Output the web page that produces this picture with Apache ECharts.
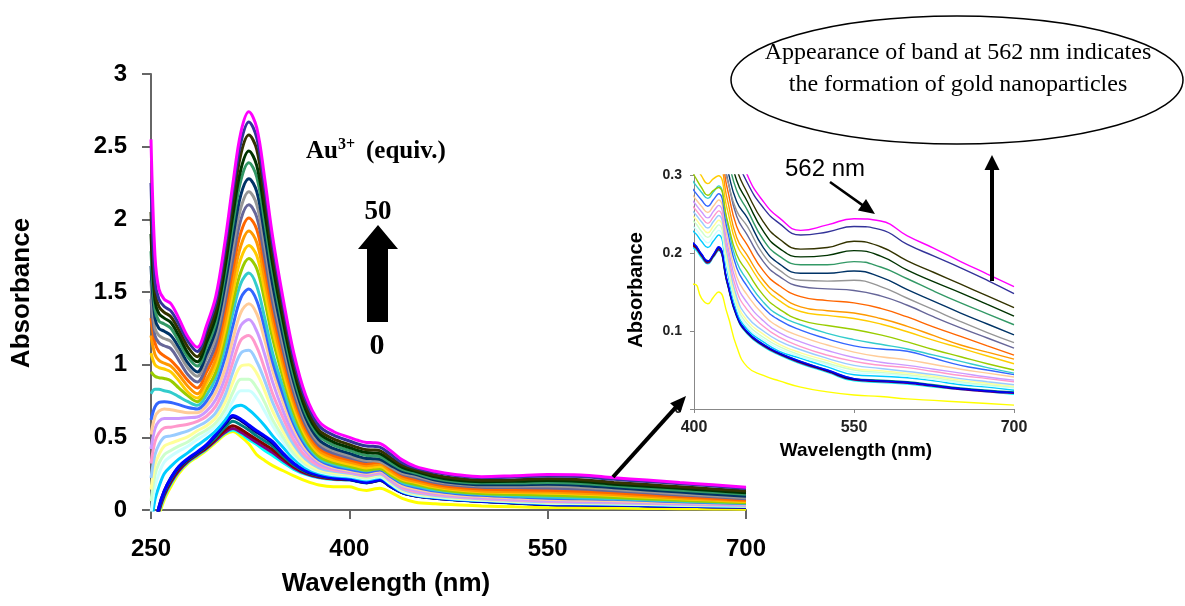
<!DOCTYPE html>
<html><head><meta charset="utf-8">
<script src="https://cdn.jsdelivr.net/npm/echarts/dist/echarts.min.js"></script>
<style>html,body{margin:0;padding:0;background:#fff}#c{width:1185px;height:606px}</style>
</head><body><div id="c"></div>
<script>
// ---------- DATA ----------
const wavelengths = [250,253,256,260,265, 271,278,285,292,299, 306,312,318,324,330, 336,342,350,358,367, 377,388,400,407,413, 418,423,431,440,450, 465,480,500,525,550, 575,600,625,650,675, 700];

const s00 = [-0.3,-0.16,-0.04,0.07,0.16, 0.25,0.32,0.365,0.41,0.465, 0.52,0.54,0.505,0.455,0.38, 0.34,0.305,0.27,0.235,0.20, 0.172,0.16,0.16,0.142,0.135, 0.143,0.15,0.123,0.08,0.054, 0.043,0.036,0.028,0.022,0.018, 0.016,0.013,0.011,0.009,0.007, 0.005];
const s01 = [-0.3,-0.14,-0.02,0.09,0.18, 0.265,0.33,0.375,0.42,0.475, 0.53,0.55,0.525,0.485,0.45, 0.41,0.375,0.325,0.28,0.245, 0.222,0.21,0.206,0.194,0.186, 0.194,0.203,0.161,0.118,0.096, 0.080,0.069,0.058,0.047,0.036, 0.034,0.032,0.028,0.025,0.022, 0.019];
const s02 = [-0.3,-0.14,-0.01,0.10,0.19, 0.27,0.335,0.38,0.425,0.48, 0.535,0.56,0.535,0.50,0.465, 0.43,0.395,0.34,0.29,0.25, 0.226,0.213,0.208,0.196,0.187, 0.195,0.204,0.162,0.119,0.097, 0.081,0.070,0.059,0.048,0.037, 0.035,0.033,0.029,0.025,0.022, 0.020];
const s03 = [-0.3,-0.13,0.0,0.11,0.20, 0.28,0.34,0.385,0.43,0.49, 0.55,0.58,0.555,0.52,0.485, 0.45,0.415,0.355,0.30,0.256, 0.23,0.215,0.209,0.197,0.188, 0.196,0.205,0.163,0.120,0.098, 0.082,0.071,0.060,0.049,0.038, 0.036,0.034,0.030,0.026,0.023, 0.021];
const s04 = [-0.3,-0.12,0.01,0.12,0.21, 0.29,0.345,0.39,0.44,0.50, 0.57,0.61,0.585,0.55,0.51, 0.475,0.44,0.37,0.31,0.262, 0.235,0.218,0.211,0.198,0.189, 0.197,0.206,0.164,0.121,0.099, 0.083,0.072,0.061,0.050,0.039, 0.037,0.035,0.031,0.027,0.024, 0.022];
const s05 = [-0.3,-0.12,0.02,0.13,0.22, 0.295,0.35,0.395,0.445,0.515, 0.59,0.64,0.615,0.575,0.535, 0.50,0.46,0.385,0.32,0.268, 0.238,0.22,0.211,0.198,0.189, 0.197,0.207,0.164,0.120,0.098, 0.082,0.071,0.060,0.049,0.038, 0.036,0.034,0.030,0.026,0.023, 0.021];
const s06 = [-0.3,-0.12,0.02,0.13,0.22, 0.30,0.355,0.40,0.45,0.52, 0.60,0.65,0.625,0.585,0.545, 0.51,0.47,0.39,0.32,0.27, 0.24,0.222,0.212,0.199,0.19, 0.198,0.208,0.165,0.121,0.099, 0.083,0.072,0.061,0.050,0.039, 0.036,0.034,0.030,0.026,0.023, 0.021];
const s07 = [-0.12,0.07,0.16,0.25,0.30, 0.35,0.395,0.445,0.49,0.545, 0.62,0.70,0.72,0.69,0.64, 0.58,0.51,0.43,0.35,0.29, 0.255,0.236,0.227,0.215,0.207, 0.215,0.223,0.177,0.126,0.102, 0.086,0.074,0.065,0.054,0.044, 0.042,0.040,0.036,0.031,0.028, 0.024];
const s08 = [-0.02,0.16,0.25,0.33,0.37, 0.405,0.44,0.485,0.525,0.575, 0.65,0.75,0.82,0.82,0.77, 0.68,0.58,0.47,0.375,0.305, 0.262,0.242,0.233,0.221,0.213, 0.221,0.229,0.182,0.130,0.105, 0.089,0.077,0.067,0.057,0.047, 0.045,0.042,0.038,0.033,0.030, 0.027];
const s09 = [0.06,0.24,0.32,0.38,0.41, 0.44,0.47,0.515,0.55,0.60, 0.69,0.81,0.90,0.90,0.84, 0.74,0.62,0.50,0.39,0.315, 0.27,0.25,0.24,0.228,0.220, 0.228,0.236,0.188,0.134,0.109, 0.092,0.080,0.069,0.059,0.050, 0.047,0.044,0.040,0.035,0.031, 0.028];
const s10 = [0.14,0.31,0.38,0.44,0.46, 0.48,0.505,0.545,0.58,0.635, 0.74,0.88,0.99,1.00,0.94, 0.82,0.68,0.54,0.42,0.33, 0.28,0.258,0.246,0.234,0.226, 0.234,0.242,0.193,0.139,0.113, 0.096,0.083,0.072,0.062,0.052, 0.049,0.046,0.042,0.037,0.033, 0.029];
const s11 = [0.22,0.38,0.45,0.50,0.51, 0.525,0.545,0.575,0.61,0.67, 0.79,0.95,1.08,1.10,1.02, 0.89,0.74,0.58,0.45,0.35, 0.29,0.266,0.252,0.240,0.232, 0.240,0.248,0.199,0.144,0.118, 0.100,0.087,0.076,0.065,0.056, 0.052,0.048,0.044,0.039,0.035, 0.031];
const s12 = [0.32,0.47,0.53,0.565,0.57, 0.58,0.59,0.61,0.645,0.715, 0.85,1.02,1.17,1.20,1.12, 0.97,0.80,0.63,0.48,0.37, 0.305,0.275,0.258,0.246,0.238, 0.246,0.254,0.206,0.152,0.127, 0.106,0.092,0.080,0.069,0.061, 0.056,0.053,0.048,0.043,0.039, 0.035];
const s13 = [0.42,0.56,0.61,0.63,0.63, 0.63,0.635,0.64,0.68,0.76, 0.91,1.10,1.27,1.31,1.23, 1.07,0.88,0.68,0.52,0.40, 0.32,0.285,0.265,0.253,0.245, 0.253,0.261,0.213,0.161,0.136, 0.113,0.098,0.086,0.075,0.066, 0.060,0.056,0.051,0.046,0.041, 0.037];
const s14 = [0.52,0.64,0.68,0.695,0.69, 0.68,0.67,0.67,0.715,0.81, 0.97,1.18,1.36,1.42,1.35, 1.17,0.96,0.74,0.56,0.42, 0.335,0.293,0.272,0.260,0.252, 0.260,0.268,0.222,0.170,0.146, 0.121,0.105,0.093,0.082,0.073, 0.067,0.063,0.057,0.051,0.046, 0.041];
const s15 = [0.62,0.71,0.74,0.745,0.74, 0.725,0.705,0.695,0.75,0.86, 1.05,1.27,1.46,1.52,1.44, 1.25,1.02,0.79,0.59,0.44, 0.345,0.302,0.28,0.268,0.260, 0.268,0.276,0.231,0.181,0.157, 0.130,0.114,0.101,0.090,0.081, 0.077,0.074,0.065,0.056,0.050, 0.044];
const s16 = [0.80,0.83,0.83,0.82,0.81, 0.78,0.745,0.72,0.79,0.91, 1.12,1.36,1.56,1.63,1.54, 1.32,1.08,0.84,0.62,0.46, 0.356,0.314,0.29,0.278,0.270, 0.278,0.286,0.240,0.189,0.165, 0.137,0.120,0.108,0.097,0.089, 0.083,0.077,0.069,0.061,0.053, 0.046];
const s17 = [0.95,0.92,0.91,0.905,0.89, 0.84,0.785,0.745,0.83,0.95, 1.18,1.43,1.64,1.73,1.66, 1.44,1.18,0.906,0.67,0.484, 0.37,0.326,0.30,0.284,0.274, 0.280,0.284,0.243,0.198,0.176, 0.146,0.128,0.114,0.107,0.102, 0.095,0.086,0.076,0.067,0.058, 0.050];
const s18 = [1.08,1.00,0.98,0.97,0.95, 0.89,0.81,0.77,0.87,1.00, 1.24,1.505,1.73,1.82,1.75, 1.51,1.24,0.953,0.705,0.51, 0.389,0.342,0.315,0.299,0.289, 0.295,0.299,0.257,0.211,0.189, 0.158,0.139,0.125,0.120,0.116, 0.109,0.099,0.088,0.078,0.068, 0.058];
const s19 = [1.20,1.07,1.03,1.01,0.99, 0.93,0.85,0.80,0.90,1.04, 1.30,1.58,1.82,1.92,1.84, 1.59,1.31,1.00,0.742,0.535, 0.408,0.359,0.33,0.314,0.304, 0.310,0.314,0.270,0.220,0.197, 0.165,0.146,0.131,0.126,0.123, 0.116,0.106,0.094,0.082,0.073, 0.064];
const s20 = [1.32,1.15,1.09,1.06,1.03, 0.97,0.89,0.84,0.95,1.09, 1.37,1.66,1.91,2.01,1.93, 1.67,1.37,1.05,0.776,0.56, 0.427,0.375,0.345,0.329,0.319, 0.325,0.329,0.284,0.234,0.210, 0.177,0.158,0.144,0.139,0.136, 0.129,0.118,0.105,0.093,0.081, 0.069];
const s21 = [1.45,1.20,1.15,1.13,1.11, 1.03,0.93,0.88,0.99,1.14, 1.43,1.73,2.00,2.10,2.015, 1.74,1.43,1.10,0.81,0.584, 0.445,0.391,0.36,0.344,0.334, 0.340,0.344,0.298,0.247,0.223, 0.189,0.170,0.157,0.154,0.152, 0.145,0.133,0.118,0.104,0.091, 0.078];
const s22 = [1.58,1.25,1.20,1.18,1.16, 1.08,0.975,0.92,1.04,1.19, 1.49,1.81,2.08,2.19,2.10, 1.82,1.49,1.145,0.845,0.61, 0.464,0.408,0.375,0.353,0.340, 0.338,0.333,0.295,0.254,0.234, 0.198,0.178,0.165,0.164,0.165, 0.157,0.142,0.127,0.112,0.098, 0.085];
const s23 = [1.68,1.32,1.25,1.23,1.20, 1.12,1.01,0.95,1.074,1.24, 1.55,1.88,2.17,2.28,2.19, 1.89,1.55,1.19,0.88,0.634, 0.483,0.424,0.39,0.368,0.355, 0.353,0.348,0.309,0.266,0.245, 0.207,0.186,0.174,0.174,0.177, 0.169,0.153,0.138,0.123,0.109, 0.095];
const s24 = [1.78,1.38,1.30,1.28,1.25, 1.16,1.05,0.99,1.12,1.29, 1.62,1.97,2.27,2.39,2.29, 1.98,1.63,1.25,0.92,0.665, 0.51,0.446,0.41,0.388,0.375, 0.373,0.368,0.326,0.280,0.255, 0.217,0.196,0.185,0.185,0.189, 0.182,0.167,0.151,0.136,0.122, 0.108];
const s25 = [1.90,1.44,1.35,1.32,1.29, 1.20,1.08,1.02,1.155,1.33, 1.67,2.035,2.345,2.47,2.37, 2.05,1.69,1.295,0.96,0.69, 0.53,0.467,0.43,0.408,0.395, 0.393,0.388,0.344,0.293,0.266, 0.228,0.206,0.195,0.197,0.203, 0.196,0.178,0.163,0.149,0.134, 0.119];
const s26 = [2.05,1.50,1.40,1.36,1.33, 1.24,1.12,1.055,1.20,1.38, 1.74,2.12,2.45,2.58,2.48, 2.14,1.76,1.35,1.00,0.725, 0.55,0.49,0.45,0.428,0.415, 0.413,0.408,0.362,0.308,0.277, 0.240,0.218,0.205,0.207,0.215, 0.208,0.190,0.175,0.160,0.145, 0.130];
const s27 = [2.25,1.58,1.45,1.40,1.37, 1.28,1.16,1.09,1.24,1.43, 1.80,2.20,2.53,2.67,2.56, 2.22,1.83,1.41,1.04,0.76, 0.58,0.515,0.475,0.453,0.440, 0.438,0.433,0.385,0.325,0.290, 0.258,0.238,0.223,0.227,0.234, 0.230,0.211,0.196,0.181,0.165, 0.148];
const s28 = [2.55,1.75,1.52,1.45,1.42, 1.32,1.19,1.12,1.27,1.47, 1.85,2.25,2.60,2.74,2.63, 2.28,1.88,1.45,1.08,0.79, 0.61,0.54,0.50,0.478,0.465, 0.463,0.458,0.41,0.345,0.300, 0.266,0.245,0.229,0.236,0.244, 0.241,0.222,0.206,0.189,0.173, 0.157];

const curveColors = ['#FFFF00','#00FFFF','#800080','#800000','#008080','#000080','#0000FF','#00CCFF','#CCFFFF','#CCFFCC','#FFFF99','#99CCFF','#FF99CC','#CC99FF','#FFCC99','#3366FF','#33CCCC','#99CC00','#FFCC00','#FF9900','#FF6600','#666699','#969696','#003366','#339966','#003300','#333300','#333399','#FF00FF'];

const mainXRange = [250, 700, 150];
const mainYRange = [0, 3, 0.5];
const insetXRange = [400, 700, 150];
const insetYRange = [0, 0.3, 0.1];

const texts = {
  yName: 'Absorbance', xName: 'Wavelength (nm)',
  au: 'Au', auSup: '3+', equiv: '(equiv.)', top: '50', bottom: '0',
  note1: 'Appearance of band at 562 nm indicates', note2: 'the formation of gold nanoparticles',
  band: '562 nm'
};

// ---------- CHART ----------
const curves = [s00,s01,s02,s03,s04,s05,s06,s07,s08,s09,s10,s11,s12,s13,s14,s15,s16,s17,s18,s19,s20,s21,s22,s23,s24,s25,s26,s27,s28];
const SANS = '"Liberation Sans", Arial, sans-serif';
const SERIF = '"Liberation Serif", "Times New Roman", serif';

const series = [];
curves.forEach((arr, k) => {
  const pts = wavelengths.map((w, i) => [w, arr[i]]);
  series.push({type:'line', xAxisIndex:0, yAxisIndex:0, data:pts, symbol:'none', smooth:0.35, clip:true, silent:true,
    lineStyle:{color:curveColors[k], width:3}, itemStyle:{color:curveColors[k]}});
  series.push({type:'line', xAxisIndex:1, yAxisIndex:1, data:pts.filter(p => p[0] >= 388), symbol:'none', smooth:0.5, clip:true, silent:true,
    lineStyle:{color:curveColors[k], width:1.4}, itemStyle:{color:curveColors[k]}});
});

function arrowEls(x1, y1, x2, y2, w, hl, hw) {
  const dx = x2 - x1, dy = y2 - y1, L = Math.hypot(dx, dy), ux = dx / L, uy = dy / L;
  const bx = x2 - ux * hl, by = y2 - uy * hl, nx = -uy, ny = ux;
  return [
    {type:'line', z:100, shape:{x1:x1, y1:y1, x2:bx + ux * 2, y2:by + uy * 2}, style:{stroke:'#000', lineWidth:w}},
    {type:'polygon', z:101, shape:{points:[[x2, y2], [bx + nx * hw, by + ny * hw], [bx - nx * hw, by - ny * hw]]}, style:{fill:'#000'}}
  ];
}
function txt(x, y, s, size, weight, fam, rot, align) {
  return {type:'text', z:102, x:x, y:y, rotation:rot || 0,
    style:{text:s, fontSize:size, fontWeight:weight, fontFamily:fam, fill:'#000',
      align:align || 'center', verticalAlign:'middle', textAlign:align || 'center', textVerticalAlign:'middle'}};
}

const graphics = [
  txt(22, 293, texts.yName, 26, 'bold', SANS, Math.PI / 2),
  txt(386, 584, texts.xName, 26, 'bold', SANS, 0),
  txt(636, 290, texts.yName, 20, 'bold', SANS, Math.PI / 2),
  txt(856, 451, texts.xName, 19, 'bold', SANS, 0),
  txt(306, 152, texts.au, 25, 'bold', SERIF, 0, 'left'),
  txt(338, 145, texts.auSup, 16, 'bold', SERIF, 0, 'left'),
  txt(366, 152, texts.equiv, 25, 'bold', SERIF, 0, 'left'),
  txt(378, 212, texts.top, 27, 'bold', SERIF, 0),
  txt(377, 346, texts.bottom, 30, 'bold', SERIF, 0),
  {type:'polygon', z:100, shape:{points:[[367,322],[388,322],[388,249],[398,249],[378,225],[358,249],[367,249]]}, style:{fill:'#000'}},
  {type:'ellipse', z:99, shape:{cx:957, cy:80, rx:226, ry:64}, style:{fill:'none', stroke:'#000', lineWidth:1.5}},
  txt(958, 53, texts.note1, 24, 'normal', SERIF, 0),
  txt(958, 85, texts.note2, 24, 'normal', SERIF, 0),
  txt(825, 169, texts.band, 24, 'normal', SANS, 0)
].concat(
  arrowEls(613, 477, 686, 396, 4, 16, 7),
  arrowEls(830, 182, 875, 214, 2.5, 16, 7),
  arrowEls(992, 281, 992, 155, 4, 15, 7.5)
);

const chart = echarts.init(document.getElementById('c'), null, {renderer:'canvas'});
chart.setOption({
  animation:false,
  backgroundColor:'#fff',
  grid:[
    {left:151, top:74, width:595, height:436},
    {left:694, top:175, width:320, height:234}
  ],
  xAxis:[
    {gridIndex:0, type:'value', min:mainXRange[0], max:mainXRange[1], interval:mainXRange[2],
      axisLine:{lineStyle:{color:'#666', width:2}}, axisTick:{length:9, lineStyle:{color:'#666', width:2}},
      axisLabel:{fontSize:24, fontWeight:'bold', color:'#000', margin:27, fontFamily:SANS}, splitLine:{show:false}},
    {gridIndex:1, type:'value', min:insetXRange[0], max:insetXRange[1], interval:insetXRange[2],
      axisLine:{lineStyle:{color:'#888', width:1}}, axisTick:{length:4, lineStyle:{color:'#888'}},
      axisLabel:{fontSize:16, fontWeight:'bold', color:'#222', margin:11, fontFamily:SANS}, splitLine:{show:false}}
  ],
  yAxis:[
    {gridIndex:0, type:'value', min:mainYRange[0], max:mainYRange[1], interval:mainYRange[2],
      axisLine:{show:true, lineStyle:{color:'#666', width:2}}, axisTick:{show:true, length:9, lineStyle:{color:'#666', width:2}},
      axisLabel:{fontSize:24, fontWeight:'bold', color:'#000', margin:24, fontFamily:SANS}, splitLine:{show:false}},
    {gridIndex:1, type:'value', min:insetYRange[0], max:insetYRange[1], interval:insetYRange[2],
      axisLine:{show:true, lineStyle:{color:'#888', width:1}}, axisTick:{show:true, length:4, lineStyle:{color:'#888'}},
      axisLabel:{fontSize:14, fontWeight:'bold', color:'#222', margin:12, fontFamily:SANS}, splitLine:{show:false}}
  ],
  series:series,
  graphic:{elements:graphics}
});
</script>
</body></html>
